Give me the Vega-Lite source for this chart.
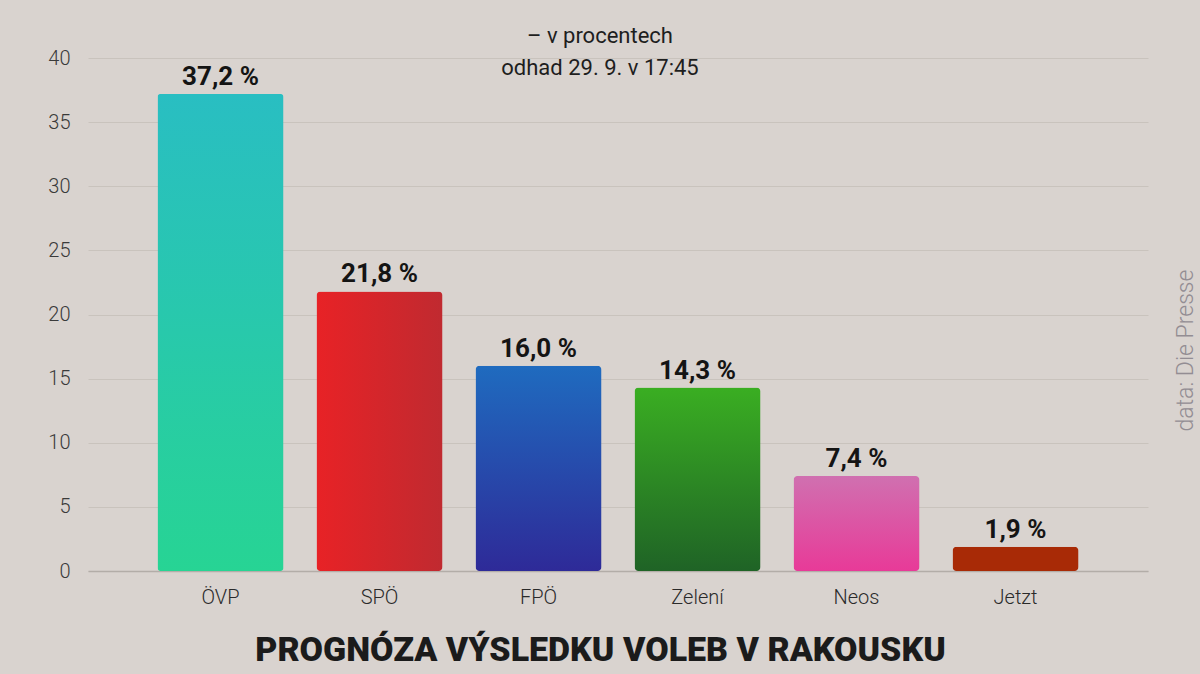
{
  "$schema": "https://vega.github.io/schema/vega-lite/v6.json",
  "width": 1060,
  "height": 513,
  "autosize": "none",
  "padding": {"left": 88, "top": 58, "right": 52, "bottom": 103},
  "background": "#d9d3cf",
  "title": {
    "text": ["– v procentech", "odhad 29. 9. v 17:45"],
    "orient": "top",
    "anchor": "middle",
    "frame": "group",
    "baseline": "alphabetic",
    "offset": 0,
    "dx": -18,
    "dy": 49,
    "lineHeight": 32,
    "font": "Roboto",
    "fontSize": 22,
    "fontWeight": "normal",
    "color": "#1e1e1e"
  },
  "data": {
    "values": [
      {"party": "ÖVP", "pct": 37.2, "label": "37,2 %"},
      {"party": "SPÖ", "pct": 21.8, "label": "21,8 %"},
      {"party": "FPÖ", "pct": 16.0, "label": "16,0 %"},
      {"party": "Zelení", "pct": 14.3, "label": "14,3 %"},
      {"party": "Neos", "pct": 7.4, "label": "7,4 %"},
      {"party": "Jetzt", "pct": 1.9, "label": "1,9 %"}
    ]
  },
  "encoding": {
    "x": {
      "field": "party",
      "type": "nominal",
      "scale": {
        "domain": ["ÖVP", "SPÖ", "FPÖ", "Zelení", "Neos", "Jetzt"],
        "paddingInner": 0.2075,
        "paddingOuter": 0.437
      },
      "axis": {
        "title": "PROGNÓZA VÝSLEDKU VOLEB V RAKOUSKU",
        "titleFont": "Roboto",
        "titleFontSize": 34,
        "titleFontWeight": 900,
        "titleColor": "#1b1b1b",
        "titleX": 512,
        "titleY": 89,
        "titleAlign": "center",
        "titleBaseline": "alphabetic",
        "labelAngle": 0,
        "labelFont": "Roboto",
        "labelFontSize": 20,
        "labelFontWeight": 300,
        "labelColor": "#2a2a2a",
        "labelPadding": 16,
        "ticks": false,
        "domain": true,
        "domainColor": "#b3ada8",
        "domainWidth": 1.5
      }
    },
    "y": {
      "field": "pct",
      "type": "quantitative",
      "scale": {"domain": [0, 40]},
      "axis": {
        "values": [0, 5, 10, 15, 20, 25, 30, 35, 40],
        "title": "data: Die Presse",
        "titleFont": "Roboto",
        "titleFontSize": 23,
        "titleFontWeight": 300,
        "titleColor": "#938d93",
        "titleAngle": 270,
        "titleX": 1109,
        "titleY": 292,
        "titleAlign": "center",
        "titleBaseline": "bottom",
        "labelFont": "Roboto",
        "labelFontSize": 20,
        "labelFontWeight": 300,
        "labelColor": "#3a3a3a",
        "labelPadding": 18,
        "ticks": false,
        "domain": false,
        "grid": true,
        "gridColor": "#c9c3bd",
        "gridWidth": 1
      }
    }
  },
  "layer": [
    {
      "transform": [{"filter": "datum.party === 'ÖVP'"}],
      "mark": {
        "type": "bar",
        "cornerRadius": 3,
        "color": {"gradient": "linear", "x1": 0, "y1": 0, "x2": 0, "y2": 1,
          "stops": [{"offset": 0, "color": "#29bec2"}, {"offset": 1, "color": "#27d494"}]}
      }
    },
    {
      "transform": [{"filter": "datum.party === 'SPÖ'"}],
      "mark": {
        "type": "bar",
        "cornerRadius": 4,
        "color": {"gradient": "linear", "x1": 0, "y1": 0, "x2": 1, "y2": 0,
          "stops": [{"offset": 0, "color": "#e82226"}, {"offset": 1, "color": "#c02a30"}]}
      }
    },
    {
      "transform": [{"filter": "datum.party === 'FPÖ'"}],
      "mark": {
        "type": "bar",
        "cornerRadius": 4,
        "color": {"gradient": "linear", "x1": 0, "y1": 0, "x2": 0, "y2": 1,
          "stops": [{"offset": 0, "color": "#1f6bbf"}, {"offset": 1, "color": "#2e2a98"}]}
      }
    },
    {
      "transform": [{"filter": "datum.party === 'Zelení'"}],
      "mark": {
        "type": "bar",
        "cornerRadius": 4,
        "color": {"gradient": "linear", "x1": 0, "y1": 0, "x2": 0, "y2": 1,
          "stops": [{"offset": 0, "color": "#3aae22"}, {"offset": 1, "color": "#1f6326"}]}
      }
    },
    {
      "transform": [{"filter": "datum.party === 'Neos'"}],
      "mark": {
        "type": "bar",
        "cornerRadius": 4,
        "color": {"gradient": "linear", "x1": 0, "y1": 0, "x2": 0, "y2": 1,
          "stops": [{"offset": 0, "color": "#d070b0"}, {"offset": 1, "color": "#e83a98"}]}
      }
    },
    {
      "transform": [{"filter": "datum.party === 'Jetzt'"}],
      "mark": {"type": "bar", "cornerRadius": 4, "color": "#a82a06"}
    },
    {
      "mark": {
        "type": "text",
        "baseline": "alphabetic",
        "dy": -9,
        "font": "Roboto",
        "fontSize": 26,
        "fontWeight": "bold",
        "color": "#141414"
      },
      "encoding": {"text": {"field": "label"}}
    }
  ],
  "config": {
    "view": {"stroke": null}
  }
}
